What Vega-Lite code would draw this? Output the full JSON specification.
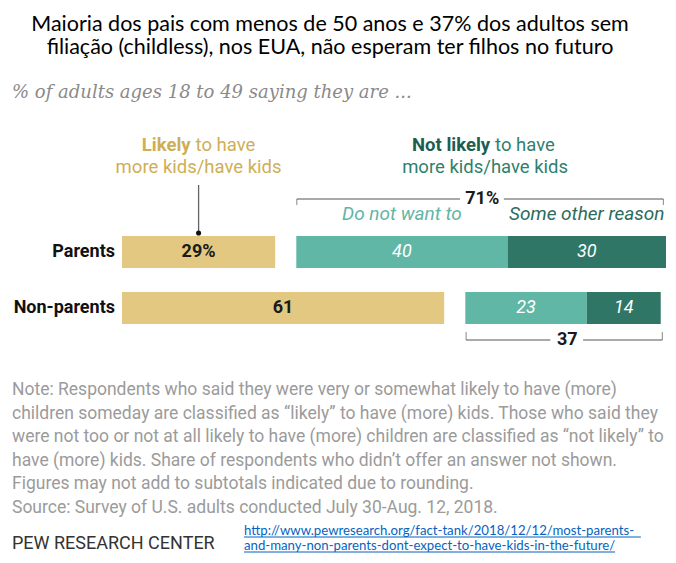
{
  "$schema": "https://vega.github.io/schema/vega-lite/v6.json",
  "background": "white",
  "padding": {"left": 12, "top": 13, "right": 0, "bottom": 0},
  "title": {
    "text": ["Maioria dos pais com menos de 50 anos e 37% dos adultos sem", "filiação (childless), nos EUA, não esperam ter filhos no futuro"],
    "anchor": "middle",
    "frame": "bounds",
    "dx": -9,
    "font": "Lato",
    "fontSize": 21.5,
    "fontWeight": "normal",
    "color": "#000000",
    "lineHeight": 23,
    "offset": 26
  },
  "datasets": {
    "bars": [
      {"group": "Parents", "segment": "Likely", "ord": 1, "value": 29, "label": "29%"},
      {"group": "Parents", "segment": "Gap", "ord": 2, "value": 4, "label": ""},
      {"group": "Parents", "segment": "Do not want to", "ord": 3, "value": 40, "label": "40"},
      {"group": "Parents", "segment": "Some other reason", "ord": 4, "value": 30, "label": "30"},
      {"group": "Non-parents", "segment": "Likely", "ord": 1, "value": 61, "label": "61"},
      {"group": "Non-parents", "segment": "Gap", "ord": 2, "value": 4, "label": ""},
      {"group": "Non-parents", "segment": "Do not want to", "ord": 3, "value": 23, "label": "23"},
      {"group": "Non-parents", "segment": "Some other reason", "ord": 4, "value": 14, "label": "14"}
    ],
    "notes": [
      {"line": 1, "text": "Note: Respondents who said they were very or somewhat likely to have (more)"},
      {"line": 2, "text": "children someday are classified as “likely” to have (more) kids. Those who said they"},
      {"line": 3, "text": "were not too or not at all likely to have (more) children are classified as “not likely” to"},
      {"line": 4, "text": "have (more) kids. Share of respondents who didn’t offer an answer not shown."},
      {"line": 5, "text": "Figures may not add to subtotals indicated due to rounding."},
      {"line": 6, "text": "Source: Survey of U.S. adults conducted July 30-Aug. 12, 2018."}
    ],
    "link": [
      {"line": 1, "text": "http://www.pewresearch.org/fact-tank/2018/12/12/most-parents-"},
      {"line": 2, "text": "and-many-non-parents-dont-expect-to-have-kids-in-the-future/"}
    ]
  },
  "columns": 1,
  "align": "none",
  "spacing": 32,
  "concat": [
    {
      "title": {
        "text": "% of adults ages 18 to 49 saying they are ...",
        "anchor": "start",
        "frame": "group",
        "font": "DejaVu Serif",
        "fontStyle": "italic",
        "fontWeight": "normal",
        "fontSize": 18,
        "color": "#8a8a8a",
        "offset": 34
      },
      "width": 654,
      "height": {"step": 56},
      "data": {"name": "bars"},
      "encoding": {
        "y": {
          "field": "group",
          "type": "nominal",
          "scale": {"domain": ["Parents", "Non-parents"], "paddingInner": 0.4286, "paddingOuter": 0.2143},
          "axis": null
        }
      },
      "layer": [
        {
          "mark": {"type": "bar"},
          "encoding": {
            "x": {"field": "value", "type": "quantitative", "stack": "zero", "scale": {"domain": [-20.83, 103], "nice": false, "zero": false}, "axis": null},
            "color": {
              "field": "segment",
              "type": "nominal",
              "scale": {"domain": ["Likely", "Gap", "Do not want to", "Some other reason"], "range": ["#e3c882", "transparent", "#60b7a6", "#2f7666"]},
              "legend": null
            },
            "order": {"field": "ord", "type": "quantitative"}
          }
        },
        {
          "transform": [{"filter": "datum.ord === 1"}],
          "mark": {"type": "text", "align": "right", "baseline": "middle", "dx": -7, "font": "Roboto", "fontSize": 18, "fontWeight": "bold", "color": "#111111"},
          "encoding": {
            "x": {"datum": 0, "axis": null},
            "text": {"field": "group"}
          }
        },
        {
          "mark": {"type": "text", "font": "Roboto", "fontSize": 18, "fontWeight": "bold", "color": "#1a1a1a", "baseline": "middle"},
          "encoding": {
            "x": {"field": "value", "type": "quantitative", "stack": "zero", "bandPosition": 0.5, "axis": null},
            "detail": {"field": "segment"},
            "order": {"field": "ord", "type": "quantitative"},
            "text": {"condition": {"test": "datum.segment === 'Likely'", "field": "label"}, "value": ""}
          }
        },
        {
          "mark": {"type": "text", "font": "Roboto", "fontSize": 18, "fontStyle": "italic", "color": "#ffffff", "baseline": "middle"},
          "encoding": {
            "x": {"field": "value", "type": "quantitative", "stack": "zero", "bandPosition": 0.5, "axis": null},
            "detail": {"field": "segment"},
            "order": {"field": "ord", "type": "quantitative"},
            "text": {"condition": {"test": "datum.segment === 'Do not want to' || datum.segment === 'Some other reason'", "field": "label"}, "value": ""}
          }
        },
        {
          "mark": {"type": "text", "font": "Roboto", "fontSize": 19, "fontStyle": "italic", "baseline": "alphabetic", "dy": -32},
          "encoding": {
            "x": {"field": "value", "type": "quantitative", "stack": "zero", "bandPosition": 0.5, "axis": null},
            "detail": {"field": "segment"},
            "order": {"field": "ord", "type": "quantitative"},
            "color": {"condition": {"test": "datum.segment === 'Do not want to'", "value": "#62b4a4"}, "value": "#2c6b5d"},
            "text": {"condition": {"test": "datum.group === 'Parents' && (datum.segment === 'Do not want to' || datum.segment === 'Some other reason')", "field": "segment"}, "value": ""}
          }
        },
        {
          "data": {"values": [{}]},
          "encoding": {"y": {"datum": "Parents"}},
          "layer": [
            {"mark": {"type": "text", "text": "Likely", "align": "right", "baseline": "alphabetic", "dx": -8, "dy": -101, "font": "Roboto", "fontSize": 18.5, "fontWeight": "bold", "color": "#cfae55"}, "encoding": {"x": {"datum": 14.5, "axis": null}}},
            {"mark": {"type": "text", "text": "to have", "align": "left", "baseline": "alphabetic", "dx": -3, "dy": -101, "font": "Roboto", "fontSize": 18.5, "color": "#cfae55"}, "encoding": {"x": {"datum": 14.5, "axis": null}}},
            {"mark": {"type": "text", "text": "more kids/have kids", "align": "center", "baseline": "alphabetic", "dy": -79, "font": "Roboto", "fontSize": 18.5, "color": "#cfae55"}, "encoding": {"x": {"datum": 14.5, "axis": null}}},
            {"mark": {"type": "tick", "orient": "vertical", "thickness": 1.3, "size": 48, "yOffset": -43, "color": "#222222"}, "encoding": {"x": {"datum": 14.5, "axis": null}}},
            {"mark": {"type": "point", "filled": true, "size": 26, "opacity": 1, "yOffset": -19, "color": "#111111"}, "encoding": {"x": {"datum": 14.5, "axis": null}}},
            {"mark": {"type": "text", "text": "Not likely", "align": "right", "baseline": "alphabetic", "dx": 5, "dy": -101, "font": "Roboto", "fontSize": 18.5, "fontWeight": "bold", "color": "#1e5e4e"}, "encoding": {"x": {"datum": 68.75, "axis": null}}},
            {"mark": {"type": "text", "text": "to have", "align": "left", "baseline": "alphabetic", "dx": 10, "dy": -101, "font": "Roboto", "fontSize": 18.5, "color": "#2f7f6d"}, "encoding": {"x": {"datum": 68.75, "axis": null}}},
            {"mark": {"type": "text", "text": "more kids/have kids", "align": "center", "baseline": "alphabetic", "dy": -79, "font": "Roboto", "fontSize": 18.5, "color": "#2f7f6d"}, "encoding": {"x": {"datum": 68.75, "axis": null}}},
            {"mark": {"type": "rule", "yOffset": -53, "color": "#555555", "strokeWidth": 1}, "encoding": {"x": {"datum": 33.1, "axis": null}, "x2": {"datum": 64.0}}},
            {"mark": {"type": "rule", "yOffset": -53, "color": "#555555", "strokeWidth": 1}, "encoding": {"x": {"datum": 72.3, "axis": null}, "x2": {"datum": 102.5}}},
            {"mark": {"type": "tick", "orient": "vertical", "thickness": 1, "size": 6, "yOffset": -50, "color": "#555555"}, "encoding": {"x": {"datum": 33.1, "axis": null}}},
            {"mark": {"type": "tick", "orient": "vertical", "thickness": 1, "size": 6, "yOffset": -50, "color": "#555555"}, "encoding": {"x": {"datum": 102.5, "axis": null}}},
            {"mark": {"type": "text", "text": "71%", "align": "center", "baseline": "middle", "dy": -53, "font": "Roboto", "fontSize": 18, "fontWeight": "bold", "color": "#1a1a1a"}, "encoding": {"x": {"datum": 68.2, "axis": null}}}
          ]
        },
        {
          "data": {"values": [{}]},
          "encoding": {"y": {"datum": "Non-parents"}},
          "layer": [
            {"mark": {"type": "rule", "yOffset": 32, "color": "#555555", "strokeWidth": 1}, "encoding": {"x": {"datum": 65.15, "axis": null}, "x2": {"datum": 81.1}}},
            {"mark": {"type": "rule", "yOffset": 32, "color": "#555555", "strokeWidth": 1}, "encoding": {"x": {"datum": 87.3, "axis": null}, "x2": {"datum": 102.3}}},
            {"mark": {"type": "tick", "orient": "vertical", "thickness": 1, "size": 8, "yOffset": 28, "color": "#555555"}, "encoding": {"x": {"datum": 65.15, "axis": null}}},
            {"mark": {"type": "tick", "orient": "vertical", "thickness": 1, "size": 8, "yOffset": 28, "color": "#555555"}, "encoding": {"x": {"datum": 102.3, "axis": null}}},
            {"mark": {"type": "text", "text": "37", "align": "center", "baseline": "middle", "dy": 32, "font": "Roboto", "fontSize": 18, "fontWeight": "bold", "color": "#1a1a1a"}, "encoding": {"x": {"datum": 84.3, "axis": null}}}
          ]
        }
      ]
    },
    {
      "columns": 1,
      "align": "none",
      "spacing": 7,
      "concat": [
        {
          "width": 650,
          "height": 118,
          "data": {"name": "notes"},
          "mark": {"type": "text", "align": "left", "baseline": "alphabetic", "font": "Roboto", "fontSize": 17.5, "color": "#9b9b9b"},
          "encoding": {
            "x": {"datum": 0, "scale": {"domain": [0, 1]}, "axis": null},
            "y": {"field": "line", "type": "ordinal", "scale": {"type": "point", "padding": 0}, "axis": null},
            "text": {"field": "text"}
          }
        },
        {
          "hconcat": [
            {
              "width": 231,
              "height": 28,
              "data": {"values": [{"t": "PEW RESEARCH CENTER"}]},
              "mark": {"type": "text", "align": "left", "baseline": "alphabetic", "font": "Roboto", "fontSize": 18, "color": "#333333"},
              "encoding": {
                "x": {"datum": 0, "scale": {"domain": [0, 1]}, "axis": null},
                "text": {"field": "t"}
              }
            },
            {
              "width": 410,
              "height": 15,
              "data": {"name": "link"},
              "encoding": {
                "x": {"datum": 0, "scale": {"domain": [0, 1]}, "axis": null}
              },
              "layer": [
                {
                  "mark": {"type": "text", "align": "left", "baseline": "alphabetic", "font": "Lato", "fontSize": 13.2, "color": "#0563c1"},
                  "encoding": {
                    "y": {"field": "line", "type": "ordinal", "scale": {"type": "point", "padding": 0}, "axis": null},
                    "text": {"field": "text"}
                  }
                },
                {
                  "data": {"values": [{}]},
                  "mark": {"type": "rule", "yOffset": 2, "color": "#0563c1", "strokeWidth": 1},
                  "encoding": {"y": {"datum": 1, "type": "ordinal", "axis": null}, "x2": {"datum": 0.968}}
                },
                {
                  "data": {"values": [{}]},
                  "mark": {"type": "rule", "yOffset": 2, "color": "#0563c1", "strokeWidth": 1},
                  "encoding": {"y": {"datum": 2, "type": "ordinal", "axis": null}, "x2": {"datum": 0.905}}
                }
              ]
            }
          ],
          "spacing": 0
        }
      ]
    }
  ],
  "config": {
    "view": {"stroke": null},
    "font": "Roboto"
  }
}
